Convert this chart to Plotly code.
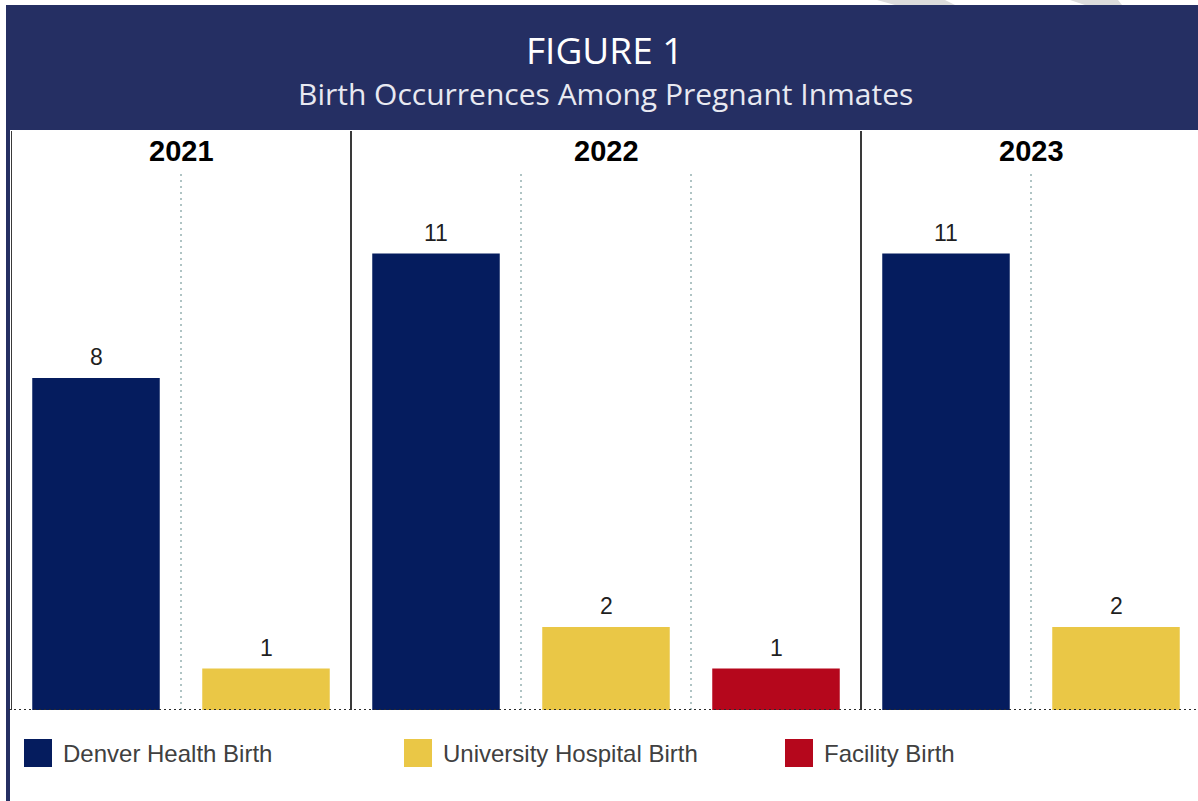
import plotly.graph_objects as go

# ---------------- data ----------------
years = ["2021", "2022", "2023"]
series_names = ["Denver Health Birth", "University Hospital Birth", "Facility Birth"]
denver_health = [8, 11, 11]
university_hospital = [1, 2, 2]
facility_birth = [None, 1, None]
series_colors = ["#051C5E", "#EAC746", "#B5071C"]
title_text = "FIGURE 1"
subtitle_text = "Birth Occurrences Among Pregnant Inmates"

series_values = [denver_health, university_hospital, facility_birth]

# ---------------- layout geometry (pixels) ----------------
FIG_W, FIG_H = 1198, 801
PL, PR, PT, PB = 11, 1198, 131, 710
PW, PH = PR - PL, PB - PT
SLOT_PX = 170.0
UNIT_PX = 41.5
HEADER_BG = "#252F63"


def pxx(px):
    return (px - PL) / PW


def pxy(py):
    return (PB - py) / PH


# ---------------- build slots from the data ----------------
xs = [[] for _ in series_names]
ys = [[] for _ in series_names]
groups = []
slot = 0
for yi, yr in enumerate(years):
    start = slot
    for si in range(len(series_names)):
        v = series_values[si][yi]
        if v is None:
            continue
        xs[si].append(slot)
        ys[si].append(v)
        slot += 1
    groups.append((yr, start - 0.5, slot - 0.5))

fig = go.Figure()
for si, name in enumerate(series_names):
    fig.add_trace(go.Bar(
        x=xs[si], y=ys[si], name=name, width=0.75,
        marker=dict(color=series_colors[si], line=dict(width=0)),
        showlegend=False,
    ))

shapes = []
annotations = []

# header band
shapes.append(dict(type="rect", xref="paper", yref="paper", layer="below",
                   x0=pxx(6), x1=pxx(1200), y0=pxy(130), y1=pxy(5),
                   fillcolor=HEADER_BG, line=dict(width=0)))
# left navy border
shapes.append(dict(type="rect", xref="paper", yref="paper", layer="below",
                   x0=pxx(6), x1=pxx(10), y0=pxy(801), y1=pxy(5),
                   fillcolor=HEADER_BG, line=dict(width=0)))
# watermark stripes at top
for poly in [[(877, 0), (945, 0), (955, 5), (895, 5)],
             [(1070, 0), (1118, 0), (1122, 5), (1085, 5)]]:
    path = "M " + " L ".join(f"{pxx(a):.5f},{pxy(b):.5f}" for a, b in poly) + " Z"
    shapes.append(dict(type="path", xref="paper", yref="paper", path=path,
                       fillcolor="#DCDCDC", line=dict(width=0), layer="below"))

annotations.append(dict(text=title_text, xref="paper", yref="paper",
                        x=pxx(605), y=pxy(50), showarrow=False,
                        xanchor="center", yanchor="middle",
                        font=dict(family="Open Sans", size=37, color="#FFFFFF")))
annotations.append(dict(text=subtitle_text, xref="paper", yref="paper",
                        x=pxx(606), y=pxy(93), showarrow=False,
                        xanchor="center", yanchor="middle",
                        font=dict(family="Open Sans", size=30, color="#E8E9F1")))

# group dividers, year labels, dotted gridlines
for yr, g0, g1 in groups:
    shapes.append(dict(type="line", xref="x", yref="paper", x0=g0, x1=g0,
                       y0=0, y1=1, line=dict(color="#3A3A3A", width=2)))
    annotations.append(dict(text=f"<b>{yr}</b>", xref="x", yref="paper",
                            x=(g0 + g1) / 2, y=pxy(151), showarrow=False,
                            xanchor="center", yanchor="middle",
                            font=dict(family="Liberation Sans, Arial", size=29,
                                      color="#000000")))
    k = g0 + 1
    while k < g1 - 1e-9:
        shapes.append(dict(type="line", xref="x", yref="y", x0=k, x1=k,
                           y0=0, y1=13, line=dict(color="#AFC4C4", width=2,
                                                   dash="2px,4px")))
        k += 1

# baseline
shapes.append(dict(type="line", xref="paper", yref="y", x0=pxx(9), x1=1,
                   y0=0, y1=0, line=dict(color="#2A2A2A", width=2,
                                         dash="2px,3px")))

# value labels
for si in range(len(series_names)):
    for x, v in zip(xs[si], ys[si]):
        annotations.append(dict(text=str(v), xref="x", yref="y", x=x, y=v,
                                yshift=21, showarrow=False,
                                xanchor="center", yanchor="middle",
                                font=dict(family="Liberation Sans, Arial",
                                          size=23, color="#1F1F1F")))

# legend (manual)
legend_x = [24, 404, 785]
for si, name in enumerate(series_names):
    x0 = legend_x[si]
    shapes.append(dict(type="rect", xref="paper", yref="paper",
                       x0=pxx(x0), x1=pxx(x0 + 28), y0=pxy(767), y1=pxy(739),
                       fillcolor=series_colors[si], line=dict(width=0)))
    annotations.append(dict(text=name, xref="paper", yref="paper",
                            x=pxx(x0 + 37), y=pxy(753), showarrow=False,
                            xanchor="left", yanchor="middle",
                            font=dict(family="Liberation Sans, Arial", size=24,
                                      color="#404040")))

fig.update_layout(
    width=FIG_W, height=FIG_H, autosize=False,
    margin=dict(l=PL, r=FIG_W - PR, t=PT, b=FIG_H - PB, pad=0),
    paper_bgcolor="#FFFFFF", plot_bgcolor="rgba(0,0,0,0)",
    barmode="overlay",
    xaxis=dict(range=[-0.5, -0.5 + PW / SLOT_PX], visible=False, fixedrange=True),
    yaxis=dict(range=[0, PH / UNIT_PX], visible=False, fixedrange=True),
    shapes=shapes, annotations=annotations,
)

fig.write_html("out.html", config={"displayModeBar": False},
               post_script="document.body.style.margin='0';"
                           "document.body.style.overflow='hidden';")
